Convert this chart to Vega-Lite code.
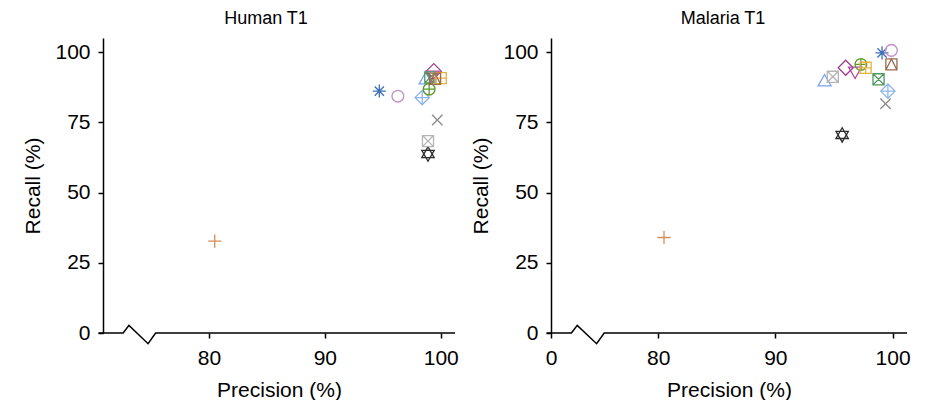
{
  "$schema": "https://vega.github.io/schema/vega-lite/v6.json",
  "background": "white",
  "padding": {"left": 22, "top": 10, "right": 5, "bottom": 0},
  "config": {
    "font": "Liberation Sans",
    "view": {"stroke": null},
    "concat": {"spacing": 11},
    "axis": {
      "grid": false,
      "labelFontSize": 21,
      "titleFontSize": 21,
      "titleFontWeight": "normal",
      "labelColor": "black",
      "titleColor": "black",
      "tickColor": "black",
      "tickWidth": 1.5,
      "tickSize": 5,
      "domainColor": "black",
      "domainWidth": 1.5,
      "labelFlush": false
    }
  },
  "datasets": {
    "axisline": [
      {"px": 70.48, "py": 0},
      {"px": 72.6, "py": 0},
      {"px": 73.1, "py": 2.7},
      {"px": 74.75, "py": -3.8},
      {"px": 75.4, "py": 0},
      {"px": 101.23, "py": 0}
    ],
    "points": [
      {"panel": "Human T1", "method": "asterisk", "precision": 94.7, "recall": 86.1},
      {"panel": "Human T1", "method": "circle", "precision": 96.3, "recall": 84.3},
      {"panel": "Human T1", "method": "triangle", "precision": 98.7, "recall": 90.4},
      {"panel": "Human T1", "method": "plus", "precision": 80.5, "recall": 32.7},
      {"panel": "Human T1", "method": "cross", "precision": 99.7, "recall": 75.8},
      {"panel": "Human T1", "method": "diamond", "precision": 99.4, "recall": 93.2},
      {"panel": "Human T1", "method": "downtriangle", "precision": 99.3, "recall": 91.5},
      {"panel": "Human T1", "method": "squarecross", "precision": 99.1, "recall": 91.0},
      {"panel": "Human T1", "method": "diamondplus", "precision": 98.4, "recall": 83.8},
      {"panel": "Human T1", "method": "circleplus", "precision": 99.0, "recall": 86.8},
      {"panel": "Human T1", "method": "star", "precision": 98.9, "recall": 63.7},
      {"panel": "Human T1", "method": "squareplus", "precision": 100.0, "recall": 90.7},
      {"panel": "Human T1", "method": "squaretriangle", "precision": 99.5, "recall": 90.5},
      {"panel": "Human T1", "method": "squarecross2", "precision": 98.9, "recall": 68.3},
      {"panel": "Malaria T1", "method": "asterisk", "precision": 99.1, "recall": 99.7},
      {"panel": "Malaria T1", "method": "circle", "precision": 99.9, "recall": 100.6},
      {"panel": "Malaria T1", "method": "triangle", "precision": 94.2, "recall": 89.7},
      {"panel": "Malaria T1", "method": "plus", "precision": 80.5, "recall": 34.0},
      {"panel": "Malaria T1", "method": "cross", "precision": 99.4, "recall": 81.6},
      {"panel": "Malaria T1", "method": "diamond", "precision": 96.0, "recall": 94.4},
      {"panel": "Malaria T1", "method": "downtriangle", "precision": 96.8, "recall": 92.9},
      {"panel": "Malaria T1", "method": "squarecross", "precision": 98.8, "recall": 90.3},
      {"panel": "Malaria T1", "method": "diamondplus", "precision": 99.6, "recall": 86.1},
      {"panel": "Malaria T1", "method": "circleplus", "precision": 97.3, "recall": 95.6},
      {"panel": "Malaria T1", "method": "star", "precision": 95.7, "recall": 70.5},
      {"panel": "Malaria T1", "method": "squareplus", "precision": 97.7, "recall": 94.4},
      {"panel": "Malaria T1", "method": "squaretriangle", "precision": 99.9, "recall": 95.6},
      {"panel": "Malaria T1", "method": "squarecross2", "precision": 94.9, "recall": 91.2}
    ]
  },
  "hconcat": [
    {
      "width": 352,
      "height": 295,
      "title": {"text": "Human T1", "frame": "group", "dx": -13, "fontSize": 18, "fontWeight": "normal", "offset": 10, "color": "black"},
      "layer": [
        {
          "data": {"name": "axisline"},
          "mark": {"type": "line", "color": "black", "strokeWidth": 1.5, "clip": false},
          "encoding": {
            "x": {"field": "px", "type": "quantitative", "scale": {"domain": [70.86, 101.23], "nice": false, "zero": false},
                  "axis": {"title": "Precision (%)", "values": [80, 90, 100], "domain": false, "labelPadding": 9, "titlePadding": 11}},
            "y": {"field": "py", "type": "quantitative", "scale": {"domain": [0, 105], "nice": false, "zero": false},
                  "axis": {"title": "Recall (%)", "values": [0, 25, 50, 75, 100], "labelPadding": 8, "titlePadding": 11}}
          }
        },
        {
          "data": {"name": "points"},
          "transform": [{"filter": "datum.panel === 'Human T1'"}],
          "mark": {"type": "point", "filled": false, "strokeWidth": 1.3, "size": 170, "opacity": 1, "clip": false},
          "encoding": {
            "x": {"field": "precision", "type": "quantitative"},
            "y": {"field": "recall", "type": "quantitative"},
            "shape": {"field": "method", "type": "nominal", "legend": null,
              "scale": {
                "domain": ["asterisk", "circle", "triangle", "plus", "cross", "diamond", "downtriangle", "squarecross", "diamondplus", "circleplus", "star", "squareplus", "squaretriangle", "squarecross2"],
                "range": [
                  "M-1,0H1M0,-1V1M-0.71,-0.71L0.71,0.71M-0.71,0.71L0.71,-0.71",
                  "M-0.9,0A0.9,0.9,0,1,0,0.9,0A0.9,0.9,0,1,0,-0.9,0Z",
                  "M0,-1L1,0.75L-1,0.75Z",
                  "M-1,0H1M0,-1V1",
                  "M-0.8,-0.8L0.8,0.8M-0.8,0.8L0.8,-0.8",
                  "M0,-1.15L1.15,0L0,1.15L-1.15,0Z",
                  "M0,1L1,-0.75L-1,-0.75Z",
                  "M-0.85,-0.85H0.85V0.85H-0.85ZM-0.85,-0.85L0.85,0.85M-0.85,0.85L0.85,-0.85",
                  "M0,-1.1L1.1,0L0,1.1L-1.1,0ZM-1.1,0H1.1M0,-1.1V1.1",
                  "M-0.9,0A0.9,0.9,0,1,0,0.9,0A0.9,0.9,0,1,0,-0.9,0ZM-0.9,0H0.9M0,-0.9V0.9",
                  "M0,-1.1L0.95,0.55L-0.95,0.55ZM0,1.1L0.95,-0.55L-0.95,-0.55Z",
                  "M-0.85,-0.85H0.85V0.85H-0.85ZM-0.85,0H0.85M0,-0.85V0.85",
                  "M-0.85,-0.85H0.85V0.85H-0.85ZM-0.85,0.85L0,-0.85L0.85,0.85",
                  "M-0.85,-0.85H0.85V0.85H-0.85ZM-0.85,-0.85L0.85,0.85M-0.85,0.85L0.85,-0.85"
                ]
              }
            },
            "color": {"field": "method", "type": "nominal", "legend": null,
              "scale": {
                "domain": ["asterisk", "circle", "triangle", "plus", "cross", "diamond", "downtriangle", "squarecross", "diamondplus", "circleplus", "star", "squareplus", "squaretriangle", "squarecross2"],
                "range": ["#3d6fb6", "#c48fc9", "#7ba3f0", "#d98c55", "#8a8a8a", "#9c3e8a", "#b546a8", "#4e9a5e", "#90b5e8", "#5a9a2e", "#2b2b2b", "#e8b03c", "#9a6b4e", "#b5b5b5"]
              }
            }
          }
        }
      ]
    },
    {
      "width": 356,
      "height": 295,
      "title": {"text": "Malaria T1", "frame": "group", "dx": -6, "fontSize": 18, "fontWeight": "normal", "offset": 10, "color": "black"},
      "layer": [
        {
          "data": {"name": "axisline"},
          "mark": {"type": "line", "color": "black", "strokeWidth": 1.5, "clip": false},
          "encoding": {
            "x": {"field": "px", "type": "quantitative", "scale": {"domain": [70.86, 101.23], "nice": false, "zero": false},
                  "axis": {"title": "Precision (%)", "values": [70.86, 80, 90, 100], "labelExpr": "datum.value < 75 ? '0' : datum.label", "domain": false, "labelPadding": 9, "titlePadding": 11}},
            "y": {"field": "py", "type": "quantitative", "scale": {"domain": [0, 105], "nice": false, "zero": false},
                  "axis": {"title": "Recall (%)", "values": [0, 25, 50, 75, 100], "labelPadding": 8, "titlePadding": 11}}
          }
        },
        {
          "data": {"name": "points"},
          "transform": [{"filter": "datum.panel === 'Malaria T1'"}],
          "mark": {"type": "point", "filled": false, "strokeWidth": 1.3, "size": 170, "opacity": 1, "clip": false},
          "encoding": {
            "x": {"field": "precision", "type": "quantitative"},
            "y": {"field": "recall", "type": "quantitative"},
            "shape": {"field": "method", "type": "nominal", "legend": null},
            "color": {"field": "method", "type": "nominal", "legend": null}
          }
        }
      ]
    }
  ]
}
